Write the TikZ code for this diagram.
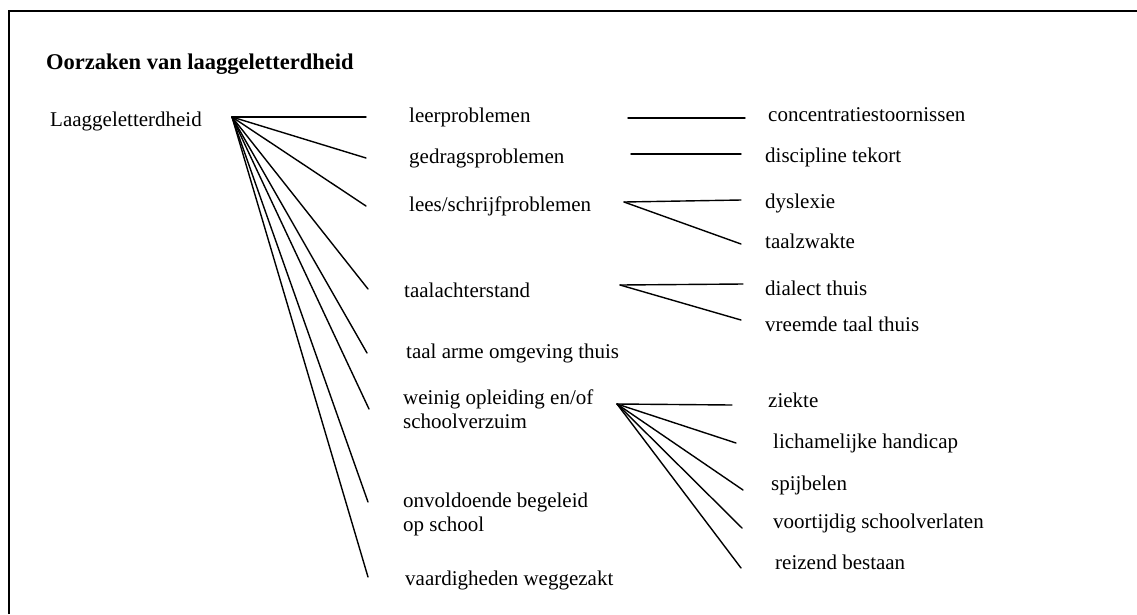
\documentclass[tikz,border=0pt]{standalone}
\usepackage{fontspec}
\setmainfont{Liberation Serif}
\begin{document}
\begin{tikzpicture}[x=1pt,y=-1pt,
  lbl/.style={anchor=base west,inner sep=0pt,font=\fontsize{21}{23.7}\selectfont,align=left},
  ttl/.style={anchor=base west,inner sep=0pt,font=\fontsize{22.5}{26}\selectfont\bfseries},
  edge/.style={line width=1.4pt,line cap=round},
  frame/.style={line width=2pt}]
\useasboundingbox (0,0) rectangle (1137,614);

% outer frame, open to the right and bottom
\coordinate (fbl) at (9,614);
\coordinate (ftl) at (9,11);
\coordinate (ftr) at (1137,11);
\draw[frame] (fbl) -- (ftl) -- (ftr);

% title and root
\node[ttl] (title) at (46,69) {Oorzaken van laaggeletterdheid};
\node[lbl] (root) at (50,126) {Laaggeletterdheid};
\coordinate (hub) at (232,117);

% first level causes (two-line labels sit on their last baseline)
\node[lbl] (leer)  at (409,122) {leerproblemen};
\node[lbl] (gedr)  at (409,163) {gedragsproblemen};
\node[lbl] (lees)  at (409,211) {lees/schrijfproblemen};
\node[lbl] (taal)  at (404,297) {taalachterstand};
\node[lbl] (arm)   at (406,358) {taal arme omgeving thuis};
\node[lbl] (opl)   at (403,428) {weinig opleiding en/of\\schoolverzuim};
\node[lbl] (begel) at (403,531) {onvoldoende begeleid\\op school};
\node[lbl] (vaard) at (405,585) {vaardigheden weggezakt};

\coordinate (e1) at (366,117);
\coordinate (e2) at (366,158);
\coordinate (e3) at (366,206);
\coordinate (e4) at (368,289);
\coordinate (e5) at (367,353);
\coordinate (e6) at (369,409);
\coordinate (e7) at (368,502);
\coordinate (e8) at (368,577);
\foreach \e in {e1,e2,e3,e4,e5,e6,e7,e8}
  \draw[edge] (hub) -- (\e);

% second level causes
\node[lbl] (conc) at (768,121) {concentratiestoornissen};
\node[lbl] (disc) at (765,162) {discipline tekort};
\node[lbl] (dys)  at (765,208) {dyslexie};
\node[lbl] (zwak) at (765,248) {taalzwakte};
\node[lbl] (dial) at (765,295) {dialect thuis};
\node[lbl] (vree) at (765,331) {vreemde taal thuis};
\node[lbl] (ziek) at (768,407) {ziekte};
\node[lbl] (lich) at (773,448) {lichamelijke handicap};
\node[lbl] (spij) at (771,490) {spijbelen};
\node[lbl] (voor) at (773,528) {voortijdig schoolverlaten};
\node[lbl] (reis) at (775,569) {reizend bestaan};

% leerproblemen -> concentratiestoornissen
\coordinate (c1a) at (628,118);
\coordinate (c1b) at (745,118);
\draw[edge] (c1a) -- (c1b);

% gedragsproblemen -> discipline tekort
\coordinate (c2a) at (631,154);
\coordinate (c2b) at (741,154);
\draw[edge] (c2a) -- (c2b);

% lees/schrijfproblemen
\coordinate (h3) at (624,202);
\coordinate (h3a) at (741,200);
\coordinate (h3b) at (741,244);
\draw[edge] (h3) -- (h3a);
\draw[edge] (h3) -- (h3b);

% taalachterstand
\coordinate (h4) at (620,285);
\coordinate (h4a) at (743,284);
\coordinate (h4b) at (741,320);
\draw[edge] (h4) -- (h4a);
\draw[edge] (h4) -- (h4b);

% weinig opleiding en/of schoolverzuim
\coordinate (h6) at (617,404);
\coordinate (h6a) at (732,405);
\coordinate (h6b) at (736,443);
\coordinate (h6c) at (743,490);
\coordinate (h6d) at (742,528);
\coordinate (h6e) at (741,568);
\foreach \e in {h6a,h6b,h6c,h6d,h6e}
  \draw[edge] (h6) -- (\e);
\end{tikzpicture}
\end{document}
